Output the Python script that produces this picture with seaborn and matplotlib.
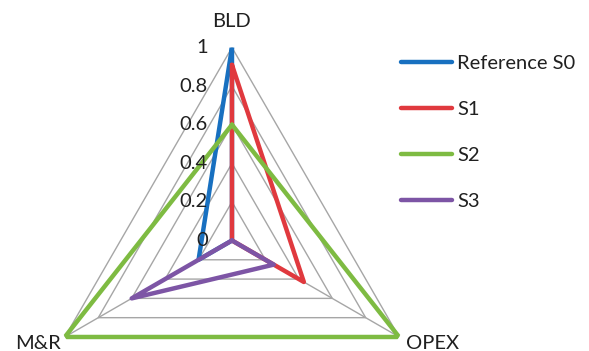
import numpy as np
import pandas as pd
import matplotlib
matplotlib.use("Agg")
import matplotlib.pyplot as plt
import seaborn as sns

# Radar axes (clockwise from the top) and scenario scores
categories = ["BLD", "OPEX", "M&R"]
series_names = ["Reference S0", "S1", "S2", "S3"]
s0_values = [1.0, 0.0, 0.2]
s1_values = [0.91, 0.43, 0.0]
s2_values = [0.6, 1.0, 1.0]
s3_values = [0.0, 0.25, 0.6]
grid_levels = [0.2, 0.4, 0.6, 0.8, 1.0]
tick_labels = ["0", "0.2", "0.4", "0.6", "0.8", "1"]

colors = ["#1870C0", "#E0393E", "#7EBB42", "#7D55A5"]

sns.set_style("white")
plt.rcParams["font.family"] = ["Lato", "DejaVu Sans"]
FS = 14.5
TXT = "#202020"

n = len(categories)
angles = [2 * np.pi * i / n for i in range(n)]
closed_angles = angles + [2 * np.pi]

rows = []
for name, vals in zip(series_names, [s0_values, s1_values, s2_values, s3_values]):
    for order, (t, v) in enumerate(zip(closed_angles, vals + vals[:1])):
        rows.append({"series": name, "theta": t, "value": v, "order": order})
df = pd.DataFrame(rows)

fig = plt.figure(figsize=(5.89, 3.51), dpi=100)
ax = fig.add_axes([0.0662, -0.2350, 0.6553, 1.0997], projection="polar")
ax.set_theta_offset(np.pi / 2)
ax.set_theta_direction(-1)
ax.set_ylim(0, 1)
ax.grid(False)
ax.set_xticks([])
ax.set_yticks([])
ax.spines["polar"].set_visible(False)
ax.patch.set_alpha(0)

# polygon gridlines and spokes
grid_color = "#A6A6A6"
for lvl in grid_levels:
    ax.plot(closed_angles, [lvl] * (n + 1), color=grid_color, lw=1.0, zorder=1)
for t in angles:
    ax.plot([t, t], [0, 1], color=grid_color, lw=1.0, zorder=1)

sns.lineplot(
    data=df, x="theta", y="value", hue="series", hue_order=series_names,
    palette=colors, sort=False, estimator=None, units="series",
    lw=3.2, ax=ax, legend=False, zorder=3,
)
ax.set_xlabel("")
ax.set_ylabel("")

# radial value labels along the BLD axis
for lvl, lab in zip([0.0] + grid_levels, tick_labels):
    ax.annotate(lab, xy=(0, lvl), xytext=(-24, 0), textcoords="offset pixels",
                ha="right", va="center", fontsize=FS, color=TXT, zorder=4)

# category labels
ax.annotate("BLD", xy=(0, 1), xytext=(0, 26), textcoords="offset pixels",
            ha="center", va="center", fontsize=FS, color=TXT)
ax.annotate("OPEX", xy=(angles[1], 1), xytext=(7, -7), textcoords="offset pixels",
            ha="left", va="center", fontsize=FS, color=TXT)
ax.annotate("M&R", xy=(angles[2], 1), xytext=(-4, -7), textcoords="offset pixels",
            ha="right", va="center", fontsize=FS, color=TXT)

handles = [plt.Line2D([], [], color=c, lw=3.2) for c in colors]
fig.legend(handles, series_names, loc="upper left", bbox_to_anchor=(401 / 589, 1 - 55 / 351),
           frameon=False, fontsize=FS, handlelength=2.55, handletextpad=0.25,
           labelspacing=1.43, borderpad=0, borderaxespad=0, labelcolor=TXT)

fig.savefig("out.png", dpi=100)
